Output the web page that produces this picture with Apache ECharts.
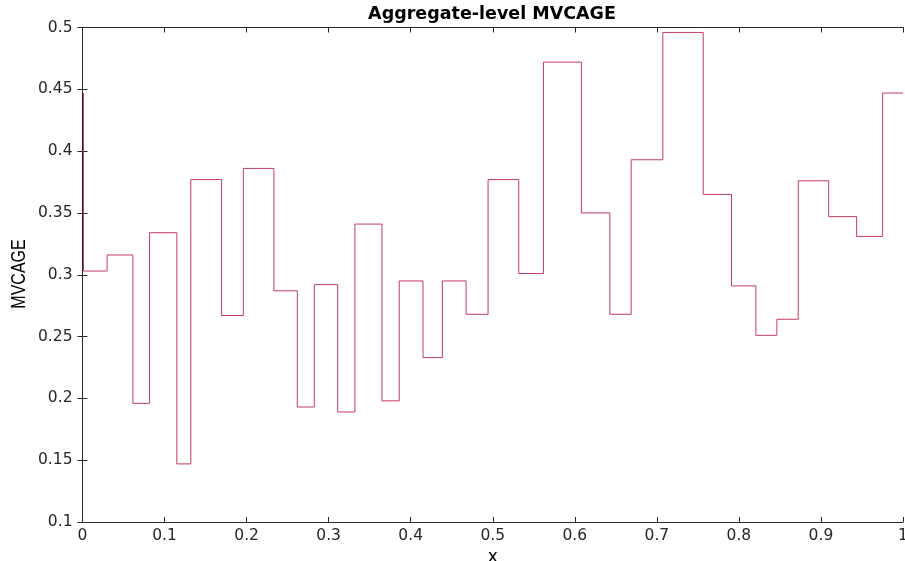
<!DOCTYPE html>
<html><head><meta charset="utf-8">
<script src="https://cdn.jsdelivr.net/npm/echarts@6/dist/echarts.min.js"></script>
<style>html,body{margin:0;padding:0;background:#fff;overflow:hidden}#c{width:905px;height:561px}</style>
</head><body><div id="c"></div>
<script>
const stepX = [0.0012, 0.0012, 0.030, 0.0614, 0.0817, 0.115, 0.132, 0.1695, 0.196, 0.2333, 0.2618, 0.2825, 0.311, 0.332, 0.365, 0.386, 0.415, 0.4386, 0.4675, 0.4943, 0.5317, 0.5618, 0.608, 0.6427, 0.6687, 0.7073, 0.7565, 0.791, 0.8207, 0.8463, 0.8723, 0.9094, 0.9435, 0.9752, 1];
const stepY = [0.447, 0.303, 0.316, 0.196, 0.334, 0.147, 0.377, 0.267, 0.386, 0.287, 0.193, 0.292, 0.189, 0.341, 0.198, 0.295, 0.233, 0.295, 0.268, 0.377, 0.301, 0.472, 0.350, 0.268, 0.393, 0.496, 0.365, 0.291, 0.251, 0.264, 0.376, 0.347, 0.331, 0.447, 0.447];
const xTicks = ['0','0.1','0.2','0.3','0.4','0.5','0.6','0.7','0.8','0.9','1'];
const yTicks = ['0.1','0.15','0.2','0.25','0.3','0.35','0.4','0.45','0.5'];

const data = stepX.map((x, i) => [x, stepY[i]]);
const font = 'DejaVu Sans, sans-serif';
const axisCol = '#262626';
const chart = echarts.init(document.getElementById('c'), null, {renderer: 'canvas'});
const common = {
  axisLine: {show: true, lineStyle: {color: axisCol, width: 1}},
  axisTick: {show: true, inside: true, length: 5, lineStyle: {color: axisCol}},
  splitLine: {show: false}
};
chart.setOption({
  animation: false,
  title: {text: 'Aggregate-level MVCAGE', left: 492, top: 5, padding: 0, textAlign: 'center',
    textStyle: {fontFamily: font, fontSize: 17.5, fontWeight: 'bold', color: '#000'}},
  grid: {left: 82.5, right: 2, top: 27.5, bottom: 39, containLabel: false, outerBoundsMode: 'none'},
  graphic: [{
    type: 'text', x: 19, y: 274, rotation: Math.PI / 2, scaleY: 1.3,
    style: {text: 'MVCAGE', fontFamily: 'Liberation Sans, Arial, sans-serif', fontSize: 16,
      fill: '#000', align: 'center', verticalAlign: 'middle'}
  }],
  xAxis: [
    Object.assign({type: 'value', min: 0, max: 1, interval: 0.1, position: 'bottom',
      name: 'x', nameLocation: 'middle', nameGap: 21,
      nameTextStyle: {fontFamily: font, fontSize: 17, color: '#000'},
      axisLabel: {fontFamily: font, fontSize: 15.5, color: axisCol, margin: 6,
        formatter: v => xTicks[Math.round(v * 10)]}}, common),
    Object.assign({type: 'value', min: 0, max: 1, interval: 0.1, position: 'top',
      axisLabel: {show: false}}, common)
  ],
  yAxis: [
    Object.assign({type: 'value', min: 0.1, max: 0.5, interval: 0.05, position: 'left',
      axisLabel: {fontFamily: font, fontSize: 15.5, color: axisCol, margin: 10,
        formatter: v => yTicks[Math.round((v - 0.1) / 0.05)]}}, common),
    Object.assign({type: 'value', min: 0.1, max: 0.5, interval: 0.05, position: 'right',
      axisLabel: {show: false}}, common)
  ],
  series: [{
    type: 'line', step: 'end', data: data, showSymbol: false, symbol: 'none',
    lineStyle: {color: '#c43c5c', width: 1}, xAxisIndex: 0, yAxisIndex: 0
  }]
});
</script></body></html>
